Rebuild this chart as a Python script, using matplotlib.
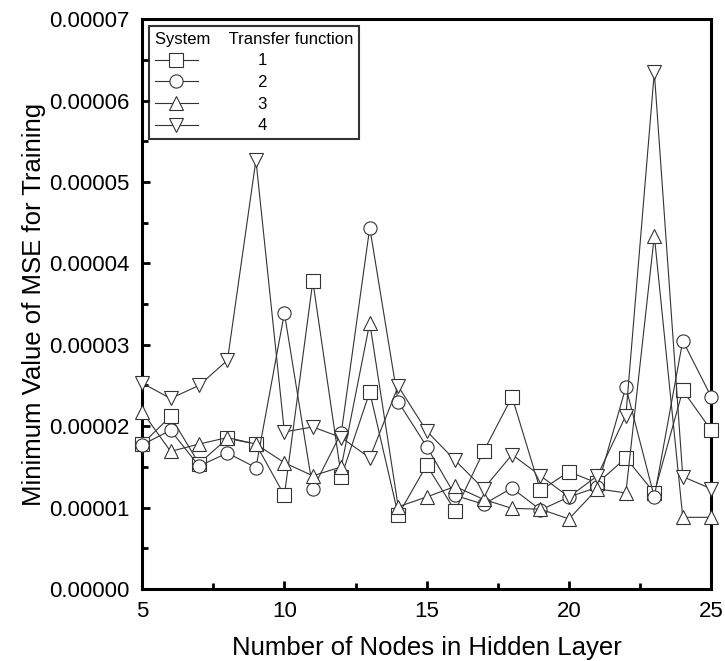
# coding: utf-8

import matplotlib
matplotlib.use('Agg')
import matplotlib.pyplot as plt
from matplotlib.ticker import MultipleLocator, FormatStrFormatter

plt.rcParams['font.family'] = ['Liberation Sans', 'DejaVu Sans']

# nodes in hidden layer
nodes = list(range(5, 26))

# minimum MSE for each transfer function
tf1 = [1.78e-5, 2.12e-5, 1.54e-5, 1.85e-5, 1.78e-5, 1.15e-5, 3.78e-5, 1.38e-5,
       2.42e-5, 0.91e-5, 1.52e-5, 0.96e-5, 1.69e-5, 2.36e-5, 1.21e-5, 1.44e-5,
       1.30e-5, 1.61e-5, 1.18e-5, 2.44e-5, 1.95e-5]
tf2 = [1.77e-5, 1.95e-5, 1.51e-5, 1.67e-5, 1.49e-5, 3.39e-5, 1.23e-5, 1.92e-5,
       4.44e-5, 2.30e-5, 1.75e-5, 1.15e-5, 1.04e-5, 1.24e-5, 0.97e-5, 1.13e-5,
       1.25e-5, 2.48e-5, 1.13e-5, 3.05e-5, 2.36e-5]
tf3 = [2.18e-5, 1.69e-5, 1.78e-5, 1.86e-5, 1.78e-5, 1.55e-5, 1.39e-5, 1.50e-5,
       3.27e-5, 1.01e-5, 1.13e-5, 1.26e-5, 1.10e-5, 0.99e-5, 0.98e-5, 0.86e-5,
       1.23e-5, 1.18e-5, 4.34e-5, 0.88e-5, 0.88e-5]
tf4 = [2.53e-5, 2.34e-5, 2.50e-5, 2.81e-5, 5.27e-5, 1.93e-5, 1.99e-5, 1.86e-5,
       1.61e-5, 2.49e-5, 1.94e-5, 1.58e-5, 1.23e-5, 1.65e-5, 1.39e-5, 1.13e-5,
       1.39e-5, 2.13e-5, 6.35e-5, 1.38e-5, 1.23e-5]

series = [tf1, tf2, tf3, tf4]
labels = ['1', '2', '3', '4']
markers = ['s', 'o', '^', 'v']

fig = plt.figure(figsize=(7.25, 6.61), dpi=100)
ax = fig.add_axes([0.196, 0.109, 0.785, 0.862])

for vals, lab, mk in zip(series, labels, markers):
    ax.plot(nodes, vals, color='#333333', lw=0.8, marker=mk, markersize=9.5,
            markerfacecolor='white', markeredgecolor='#333333', markeredgewidth=0.8,
            label='             ' + lab, clip_on=False, zorder=3)

ax.set_xlim(5, 25)
ax.set_ylim(0, 0.00007)
ax.xaxis.set_major_locator(MultipleLocator(5))
ax.xaxis.set_minor_locator(MultipleLocator(2.5))
ax.yaxis.set_major_locator(MultipleLocator(0.00001))
ax.yaxis.set_minor_locator(MultipleLocator(0.000005))
ax.yaxis.set_major_formatter(FormatStrFormatter('%.5f'))
ax.tick_params(which='both', direction='in', labelsize=16, width=2, pad=9)
ax.tick_params(which='major', length=6)
ax.tick_params(which='minor', length=4)
for s in ax.spines.values():
    s.set_linewidth(2.2)

ax.set_xlabel('Number of Nodes in Hidden Layer', fontsize=18.5, labelpad=10)
ax.set_ylabel('Minimum Value of MSE for Training', fontsize=18.5, labelpad=2)

leg = ax.legend(loc='upper left', title='System    Transfer function',
                fontsize=12, title_fontsize=12, frameon=True, fancybox=False,
                borderpad=0.35, labelspacing=0.4, handlelength=2.6,
                handletextpad=0.0, alignment='left', borderaxespad=0.4)
leg.get_frame().set_edgecolor('black')
leg.get_frame().set_linewidth(1.5)

plt.savefig('out.png', dpi=100)
